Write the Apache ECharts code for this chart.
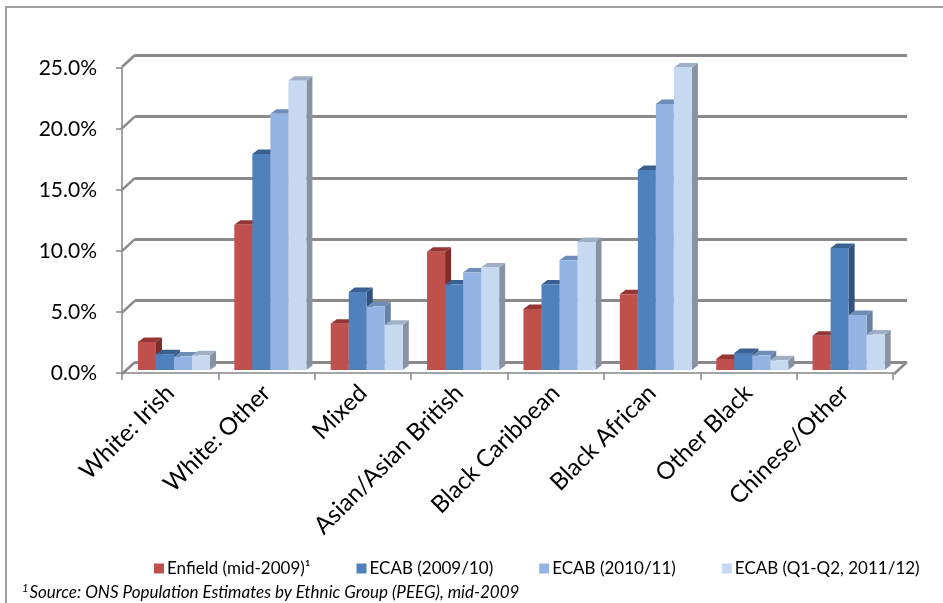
<!DOCTYPE html>
<html>
<head>
<meta charset="utf-8">
<script src="https://cdn.jsdelivr.net/npm/echarts@6/dist/echarts.min.js"></script>
<style>
  html, body { margin: 0; padding: 0; background: #ffffff; }
  #chart { width: 943px; height: 603px; }
</style>
</head>
<body>
<div id="chart"></div>
<script>
// Ethnic group shares (%)
const categories = ['White: Irish', 'White: Other', 'Mixed', 'Asian/Asian British',
  'Black Caribbean', 'Black African', 'Other Black', 'Chinese/Other'];
const enfieldMid2009 = [2.3, 11.9, 3.8, 9.7, 5.0, 6.2, 0.9, 2.8];
const ecab2009_10 = [1.3, 17.7, 6.4, 7.0, 7.0, 16.4, 1.4, 10.0];
const ecab2010_11 = [1.1, 21.0, 5.2, 8.0, 9.0, 21.8, 1.2, 4.5];
const ecab2011_12 = [1.2, 23.7, 3.7, 8.4, 10.5, 24.8, 0.8, 2.9];
const seriesNames = ['Enfield (mid-2009)\u00B9', 'ECAB (2009/10)', 'ECAB (2010/11)', 'ECAB (Q1-Q2, 2011/12)'];
const yTicks = [0, 5, 10, 15, 20, 25];
const footnote = 'Source: ONS Population Estimates by Ethnic Group (PEEG), mid-2009';

const FONT = 'Lato, "Open Sans", sans-serif';
const seriesData = [enfieldMid2009, ecab2009_10, ecab2010_11, ecab2011_12];
// front / top / side shades for each column series
const shades = [
  { front: '#C0504D', top: '#943634', side: '#7E2D2B' },
  { front: '#4F81BD', top: '#3A6091', side: '#31527A' },
  { front: '#93B4E2', top: '#6E8EB9', side: '#6681A3' },
  { front: '#C7D9F1', top: '#9FB0C6', side: '#8793A4' }
];
const DEPTH_X = 6, DEPTH_Y = -4.5;   // small extrusion of each column
const WALL_DX = 13, WALL_DY = 12;     // front plane -> back wall offset

const chart = echarts.init(document.getElementById('chart'), null, { renderer: 'canvas' });

function columnRenderer(sIdx) {
  const c = shades[sIdx];
  return function (params, api) {
    const cat = api.value(0);
    const val = api.value(1);
    const base = api.coord([cat, 0]);
    const top = api.coord([cat, val]);
    const band = api.size([1, 0])[0];
    const w = band * 0.187;
    const x0 = base[0] - 2 * w + sIdx * w;
    const yt = top[1], yb = base[1];
    return {
      type: 'group',
      children: [
        { type: 'polygon', shape: { points: [[x0 + w, yt], [x0 + w + DEPTH_X, yt + DEPTH_Y], [x0 + w + DEPTH_X, yb + DEPTH_Y], [x0 + w, yb]] },
          style: { fill: c.side } },
        { type: 'polygon', shape: { points: [[x0, yt], [x0 + w, yt], [x0 + w + DEPTH_X, yt + DEPTH_Y], [x0 + DEPTH_X, yt + DEPTH_Y]] },
          style: { fill: c.top } },
        { type: 'rect', shape: { x: x0, y: yt, width: w, height: yb - yt },
          style: { fill: c.front } }
      ]
    };
  };
}

const columnSeries = seriesData.map((arr, i) => ({
  name: seriesNames[i],
  type: 'custom',
  xAxisIndex: 2, yAxisIndex: 2,
  itemStyle: { color: shades[i].front },
  renderItem: columnRenderer(i),
  encode: { x: 0, y: 1 },
  data: arr.map((v, k) => [k, v]),
  z: 5 + i
}));

const option = {
  animation: false,
  backgroundColor: '#ffffff',
  grid: [
    // front plane: value labels and category axis
    { left: 122, top: 68, width: 771, height: 305 },
    // back wall: gridlines
    { left: 135, top: 55, width: 772, height: 307 },
    // plane holding the columns
    { left: 125.8, top: 65, width: 771, height: 305 }
  ],
  xAxis: [
    { gridIndex: 0, type: 'category', data: categories,
      axisLine: { show: true, lineStyle: { color: '#868686', width: 1.5 } },
      axisTick: { show: true, length: 7, lineStyle: { color: '#868686', width: 1.5 } },
      axisLabel: { rotate: 45, margin: 16, fontSize: 24, color: '#000', fontFamily: FONT, interval: 0 } },
    { gridIndex: 1, type: 'category', data: categories, show: false },
    { gridIndex: 2, type: 'category', data: categories, show: false }
  ],
  yAxis: [
    { gridIndex: 0, type: 'value', min: 0, max: 25, interval: 5,
      axisLine: { show: true, lineStyle: { color: '#868686', width: 1.5 } },
      axisTick: { show: true, length: 6, lineStyle: { color: '#868686', width: 1.5 } },
      splitLine: { show: false },
      axisLabel: { fontSize: 21, color: '#000', fontFamily: FONT, margin: 25,
        formatter: v => v.toFixed(1) + '%' } },
    { gridIndex: 1, type: 'value', min: 0, max: 25, interval: 5,
      axisLine: { show: false }, axisTick: { show: false }, axisLabel: { show: false },
      splitLine: { show: true, lineStyle: { color: '#8A8A8A', width: 3 } } },
    { gridIndex: 2, type: 'value', min: 0, max: 25, interval: 5, show: false,
      splitLine: { show: false } }
  ],
  legend: {
    data: seriesNames,
    left: 149, top: 555,
    icon: 'rect', itemWidth: 10, itemHeight: 10, itemGap: 46,
    textStyle: { fontSize: 17, color: '#000', fontFamily: FONT, padding: [0, 0, 0, -2] }
  },
  series: [
    // diagonal wall edges joining each front tick to its back gridline
    { type: 'custom', xAxisIndex: 1, yAxisIndex: 1, silent: true, z: 3,
      data: yTicks.map(v => [0, v]),
      renderItem: function (params, api) {
        const p = api.coord([0, api.value(1)]);
        const x = params.coordSys.x;
        return { type: 'line', shape: { x1: x, y1: p[1], x2: x - WALL_DX, y2: p[1] + WALL_DY },
          style: { stroke: '#8A8A8A', lineWidth: 2.5 } };
      } },
    // right edge of the floor
    { type: 'custom', xAxisIndex: 1, yAxisIndex: 1, silent: true, z: 3,
      data: [[categories.length - 1, 0]],
      renderItem: function (params, api) {
        const p = api.coord([api.value(0), 0]);
        const x = params.coordSys.x + params.coordSys.width;
        return { type: 'line', shape: { x1: x, y1: p[1], x2: x - WALL_DX, y2: p[1] + WALL_DY },
          style: { stroke: '#8A8A8A', lineWidth: 2.5 } };
      } }
  ].concat(columnSeries),
  graphic: [
    { type: 'rect', shape: { x: 6, y: 7, width: 960, height: 620 }, silent: true,
      style: { fill: 'none', stroke: '#A0A0A0', lineWidth: 2 } },
    { type: 'text', left: 22, top: 583, silent: true,
      style: {
        text: '{s|1}{t|' + footnote + '}',
        rich: {
          s: { fontSize: 11, fontStyle: 'italic', fontFamily: FONT, fill: '#000', verticalAlign: 'top', padding: [0, 1, 8, 0] },
          t: { fontSize: 17, fontStyle: 'italic', fontFamily: FONT, fill: '#000' }
        }
      } }
  ]
};

chart.setOption(option);
</script>
</body>
</html>
